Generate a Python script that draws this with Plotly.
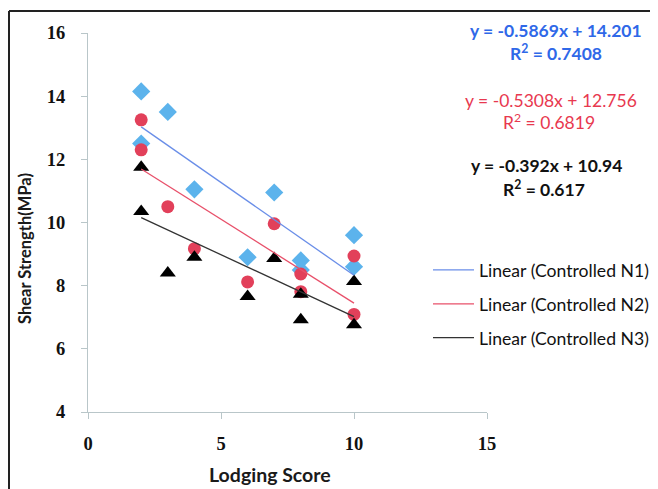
import numpy as np
import plotly.graph_objects as go

# ---- data ----
lodging_n1 = [2, 2, 3, 4, 6, 7, 8, 8, 10, 10]
shear_n1 = [14.15, 12.5, 13.5, 11.05, 8.9, 10.95, 8.8, 8.5, 9.6, 8.6]
lodging_n2 = [2, 2, 3, 4, 6, 7, 8, 8, 10, 10]
shear_n2 = [13.25, 12.3, 10.5, 9.17, 8.12, 9.96, 8.37, 7.81, 8.94, 7.09]
lodging_n3 = [2, 2, 3, 4, 6, 7, 8, 8, 10, 10]
shear_n3 = [11.75, 10.35, 8.4, 8.9, 7.66, 8.86, 7.73, 6.92, 8.13, 6.76]

slopes = [-0.5869, -0.5308, -0.392]
intercepts = [14.201, 12.756, 10.94]
eq_labels = ["y = -0.5869x + 14.201", "y = -0.5308x + 12.756", "y = -0.392x + 10.94"]
r2_labels = ["R<sup>2</sup> = 0.7408", "R<sup>2</sup> = 0.6819", "R<sup>2</sup> = 0.617"]
legend_names = ["Linear (Controlled N1)", "Linear (Controlled N2)", "Linear (Controlled N3)"]
fit_range = [2, 10]
x_title = "Lodging Score"
y_title = "Shear Strength(MPa)"

marker_colors = ["#5cb3ec", "#e2405a", "#000000"]
line_colors = ["#6a8ee8", "#e8506a", "#333333"]
text_colors = ["#2f68e8", "#e8384f", "#111111"]
symbols = ["diamond", "circle", "triangle-up"]
marker_sizes = [14, 13, 14]

# page has an 8px body margin; figure coords = screen - 8
W, H = 658, 489
L, T = 80, 25
PW, PH = 399, 379
R, B = W - L - PW, H - T - PH

def px(sx):  # screen x -> paper
    return (sx - 88) / PW

def py(sy):  # screen y -> paper
    return (412 - sy) / PH

fig = go.Figure()
xs = [lodging_n1, lodging_n2, lodging_n3]
ys = [shear_n1, shear_n2, shear_n3]
for i in range(3):
    fig.add_trace(go.Scatter(
        x=xs[i], y=ys[i], mode="markers", showlegend=False,
        marker=dict(symbol=symbols[i], color=marker_colors[i], size=marker_sizes[i],
                    line=dict(width=0))))
for i in range(3):
    fx = np.array(fit_range, dtype=float)
    fy = slopes[i] * fx + intercepts[i]
    fig.add_trace(go.Scatter(
        x=fx, y=fy, mode="lines", name=legend_names[i], legendgroup=f"g{i}",
        line=dict(color=line_colors[i], width=1.3)))

ann_pos = [(556, 30, 556, 52), (551, 100, 549, 122), (546, 166, 544, 188)]
for i in range(3):
    ex, ey, rx, ry = ann_pos[i]
    weight = "normal" if i == 1 else "bold"
    fig.add_annotation(x=px(ex), y=py(ey), xref="paper", yref="paper", text=eq_labels[i],
                       showarrow=False, xanchor="center", yanchor="middle",
                       font=dict(family="Lato", size=17.5, color=text_colors[i], weight=weight))
    fig.add_annotation(x=px(rx), y=py(ry), xref="paper", yref="paper", text=r2_labels[i],
                       showarrow=False, xanchor="center", yanchor="middle",
                       font=dict(family="Lato", size=17.5, color=text_colors[i], weight=weight))

# axis titles
fig.add_annotation(x=px(270), y=py(474), xref="paper", yref="paper", text=x_title,
                   showarrow=False, xanchor="center", yanchor="middle",
                   font=dict(family="Lato", size=19.5, color="#1a1a1a", weight="bold"))
fig.add_annotation(x=px(25), y=py(249), xref="paper", yref="paper", text=y_title,
                   showarrow=False, xanchor="center", yanchor="middle", textangle=-90,
                   font=dict(family="Lato", size=16.5, color="#1a1a1a", weight="bold"))

# frame lines (top and left)
fig.add_shape(type="line", xref="paper", yref="paper", x0=px(9), x1=px(700), y0=py(11), y1=py(11),
              line=dict(color="#222222", width=2), layer="above")
fig.add_shape(type="line", xref="paper", yref="paper", x0=px(9), x1=px(9), y0=py(11), y1=py(520),
              line=dict(color="#222222", width=2), layer="above")

axis_col = "#b9c6c9"
tick_font = dict(family="Liberation Serif", size=18.5, color="#111", weight="bold")
fig.update_xaxes(range=[0, 15], tickvals=[0, 5, 10, 15], showline=True, linecolor=axis_col,
                 linewidth=1, ticks="outside", ticklen=6, tickcolor=axis_col, showgrid=False,
                 zeroline=False, ticklabelstandoff=9, tickfont=tick_font)
fig.update_yaxes(range=[4, 16], tickvals=[4, 6, 8, 10, 12, 14, 16], showline=True, linecolor=axis_col,
                 linewidth=1, ticks="outside", ticklen=6, tickcolor=axis_col, showgrid=False,
                 zeroline=False, ticklabelstandoff=12, tickfont=tick_font)

fig.update_layout(
    width=W, height=H, margin=dict(l=L, r=R, t=T, b=B, autoexpand=False),
    paper_bgcolor="white", plot_bgcolor="white",
    legend=dict(x=px(428), y=py(252), xanchor="left", yanchor="top", traceorder="grouped",
                tracegroupgap=8, itemwidth=41, bgcolor="rgba(0,0,0,0)",
                font=dict(family="Lato", size=17.6, color="#111")),
)
fig.write_html("out.html")
